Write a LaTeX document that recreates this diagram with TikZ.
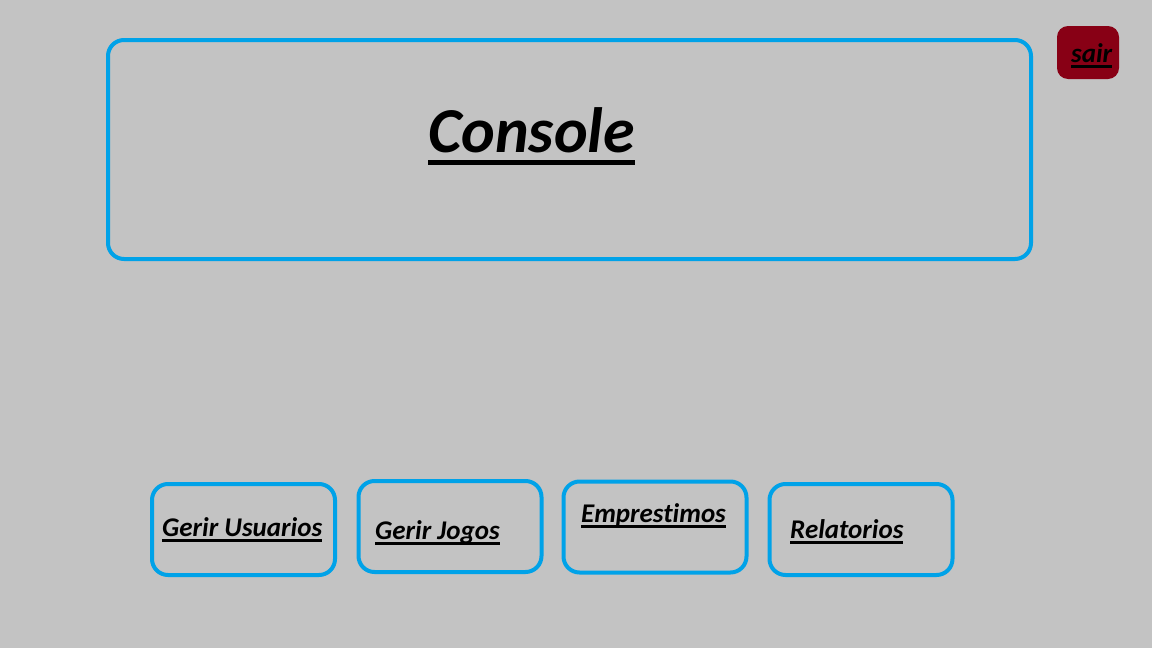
\documentclass[tikz,border=0pt]{standalone}
\usepackage{fontspec}
\setmainfont[Ligatures={NoCommon}]{Carlito}
\usepackage{tikz}
\usetikzlibrary{positioning}

\definecolor{uigray}{RGB}{195,195,195}
\definecolor{uiblue}{RGB}{0,162,232}
\definecolor{uired}{RGB}{136,0,21}

% underlined text: #1 rule offset, #2 rule thickness, #3 text
\newcommand{\ulined}[3]{\setbox0=\hbox{#3}\rlap{\copy0}\rule[#1]{\wd0}{#2}}

\begin{document}
\begin{tikzpicture}[x=1pt, y=-1pt,
                    panel/.style={draw=uiblue, line width=4pt, rounded corners=16pt},
                    btn/.style={panel, minimum width=183pt, minimum height=91pt},
                    exitbtn/.style={fill=uired, rounded corners=11pt, minimum width=62pt, minimum height=53pt},
                    lbl/.style={anchor=base west, inner sep=0pt, font=\fontsize{27}{30}\selectfont\bfseries\itshape},
                    title/.style={anchor=base west, inner sep=0pt, font=\fontsize{64}{70}\selectfont\bfseries\itshape},
                   ]

\fill[uigray] (0,0) rectangle (1152,648);
\useasboundingbox (0,0) rectangle (1152,648);

% console area
\node[panel, minimum width=923pt, minimum height=219pt] (console) at (569.5,149.5) {};
\node[title] (consoletxt) at (428,152) {\ulined{-13pt}{5pt}{Console}};

% exit button
\node[exitbtn] (sair) at (1088,52.5) {};
\node[lbl] (sairtxt) at (1071,62) {\ulined{-6pt}{3pt}{sair}};

% menu buttons
\node[btn] (usuarios) at (243.5,529.5) {};
\node[btn] (jogos) at (450,526.5) {};
\node[btn] (emprestimos) at (655,527) {};
\node[btn] (relatorios) at (861,529.5) {};

\node[lbl] (usuariostxt) at (162,536) {\ulined{-6pt}{3pt}{Gerir Usuarios}};
\node[lbl] (jogostxt) at (375,539) {\ulined{-6pt}{3pt}{Gerir Jogos}};
\node[lbl] (emprestimostxt) at (581,522) {\ulined{-6pt}{3pt}{Emprestimos}};
\node[lbl] (relatoriostxt) at (790,538) {\ulined{-6pt}{3pt}{Relatorios}};

\end{tikzpicture}
\end{document}
